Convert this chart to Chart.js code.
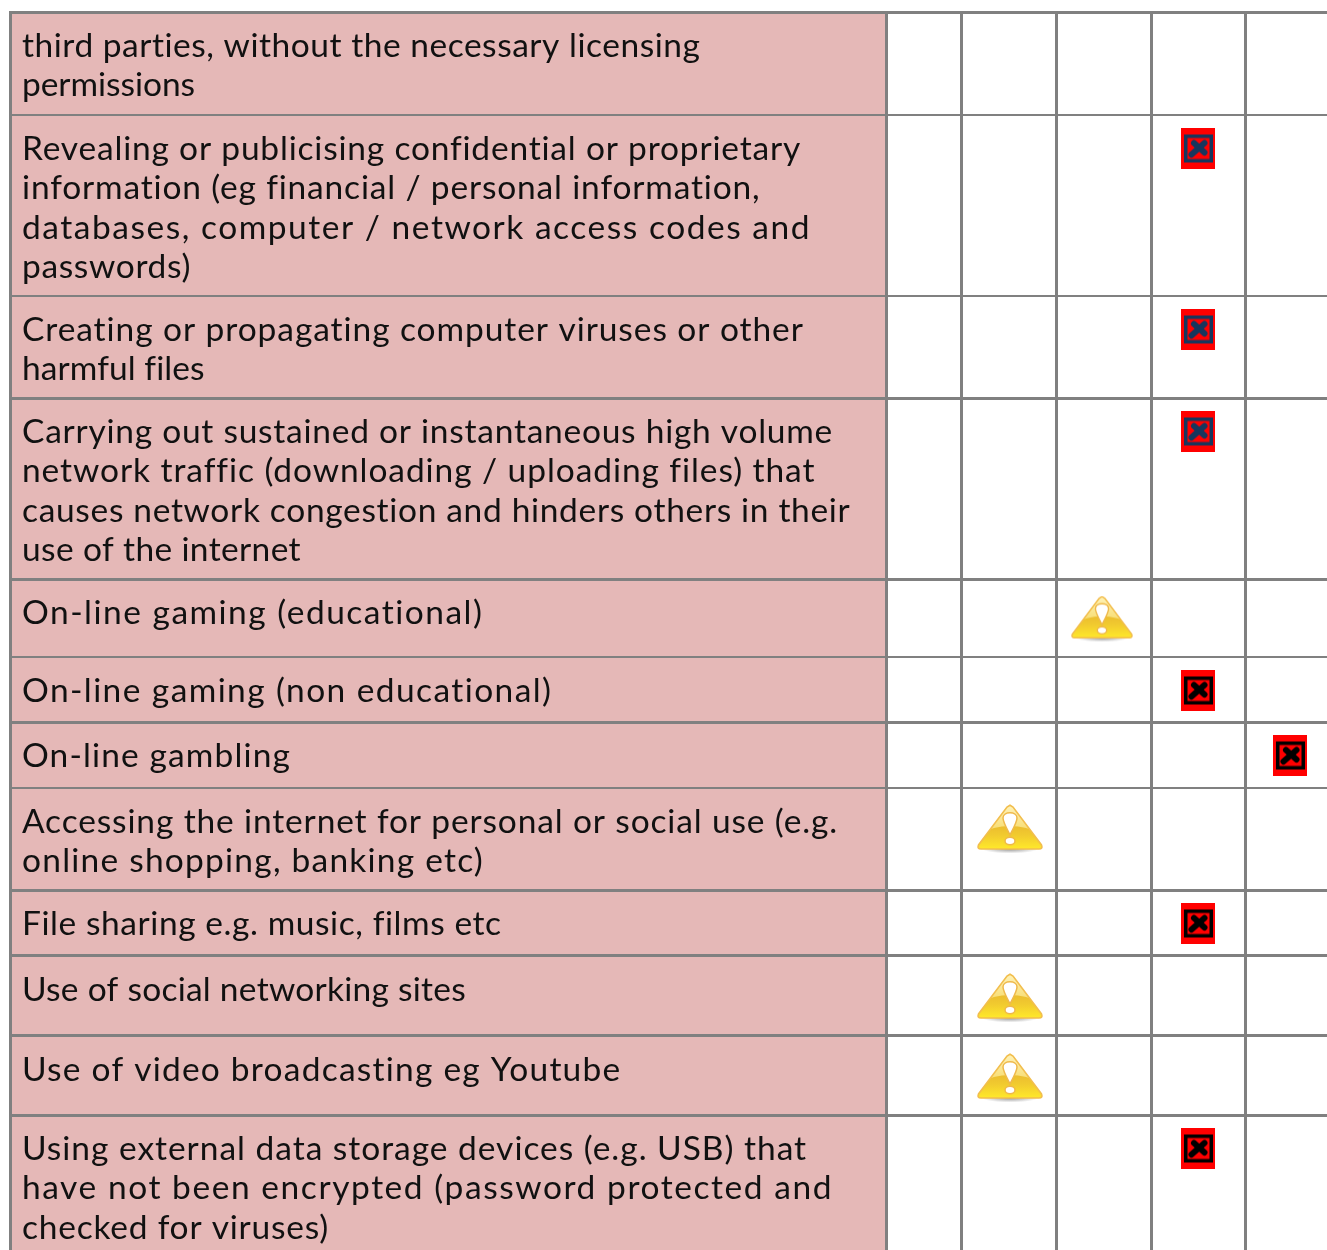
<!DOCTYPE html>
<html>
<head>
<meta charset="utf-8">
<style>
html, body { margin: 0; padding: 0; background: #fff; overflow: hidden; }
canvas { display: block; }
</style>
<script src="https://cdn.jsdelivr.net/npm/chart.js@4"></script>
</head>
<body>
<canvas id="tabela" width="1327" height="1250"></canvas>
<script>
// Linhas de texto de cada categoria
const categories = [
  ["third parties, without the necessary licensing", "permissions"],
  ["Revealing or publicising confidential or proprietary", "information (eg financial / personal information,", "databases, computer / network access codes and", "passwords)"],
  ["Creating or propagating computer viruses or other", "harmful files"],
  ["Carrying out sustained or instantaneous high volume", "network traffic (downloading / uploading files) that", "causes network congestion and hinders others in their", "use of the internet"],
  ["On-line gaming (educational)"],
  ["On-line gaming (non educational)"],
  ["On-line gambling"],
  ["Accessing the internet for personal or social use (e.g.", "online shopping, banking etc)"],
  ["File sharing e.g. music, films etc"],
  ["Use of social networking sites"],
  ["Use of video broadcasting eg Youtube"],
  ["Using external data storage devices (e.g. USB) that", "have not been encrypted (password protected and", "checked for viruses)"]
];
// Coluna marcada em cada linha (null = nenhuma)
const markColumn = [null, 3, 3, 3, 2, 3, 4, 1, 3, 1, 1, 3];
const markType = [null, "blue", "blue", "blue", "warn", "black", "black", "warn", "black", "warn", "warn", "black"];

// Geometria da tabela
const rowTops = [12.5, 115, 296, 398, 579, 657, 722, 788, 890, 955, 1035, 1115];
const thinRows = [115, 296, 657, 788];
const colLines = [10.5, 886.5, 961.5, 1056.5, 1151, 1245.5];
const colCentres = [924, 1010, 1102, 1198, 1290];
const textOffsets = [44.5, 45, 45, 45, 45, 45, 45, 45, 45, 46, 46, 45];
const markOffsets = [0, 33, 33, 33, 40, 33, 33, 41, 33, 43, 43, 33];
// Onde termina cada linha de texto, para acertar o espacamento
const lineEnds = [
  [701, 195], [801, 761, 811, 191], [805, 204], [833, 813, 851, 301],
  [484], [553], [291], [838, 484], [501], [466], [622], [807, 833, 329]
];

const TEXT_FONT = '33.5px Lato';
const GREY = '#808080';
const PINK = '#E5B8B7';

// Icone da cruz num quadrado vermelho
function blockIcon(color) {
  const c = document.createElement('canvas');
  c.width = 34; c.height = 41;
  const g = c.getContext('2d');
  g.fillStyle = '#FF0000';
  g.fillRect(0, 0, 34, 41);
  g.strokeStyle = color;
  g.lineWidth = 3.5;
  g.strokeRect(4.75, 8.75, 25.5, 24.5);
  g.lineWidth = 6;
  g.lineCap = 'round';
  g.beginPath();
  g.moveTo(10.5, 27); g.lineTo(23.5, 15.5);
  g.moveTo(13, 15.5); g.lineTo(23.5, 25);
  g.stroke();
  return c;
}

// Triangulo de aviso amarelo
function warnIcon(w, h) {
  const c = document.createElement('canvas');
  c.width = w; c.height = h;
  const g = c.getContext('2d');
  g.scale(w / 66, h / 50);
  const sh = g.createRadialGradient(33, 0, 1, 33, 0, 28);
  g.save();
  g.translate(0, 45);
  g.scale(1, 0.16);
  sh.addColorStop(0, 'rgba(120,120,120,0.75)');
  sh.addColorStop(1, 'rgba(120,120,120,0)');
  g.fillStyle = sh;
  g.fillRect(0, -28, 66, 56);
  g.restore();
  const tri = () => {
    g.beginPath();
    g.moveTo(33, 1.2);
    g.lineTo(36, 3);
    g.lineTo(64.5, 41);
    g.quadraticCurveTo(66, 45, 62, 45);
    g.lineTo(4, 45);
    g.quadraticCurveTo(0, 45, 1.5, 41);
    g.lineTo(30, 3);
    g.closePath();
  };
  const grad = g.createLinearGradient(0, 14, 0, 45);
  grad.addColorStop(0, '#E6B22E');
  grad.addColorStop(0.55, '#F1CA2F');
  grad.addColorStop(1, '#FFE92A');
  tri();
  g.fillStyle = grad;
  g.fill();
  // brilho claro da parte de cima
  g.save();
  tri();
  g.clip();
  const gloss = g.createLinearGradient(0, 0, 0, 30);
  gloss.addColorStop(0, '#FFF4BC');
  gloss.addColorStop(1, '#F6D968');
  g.fillStyle = gloss;
  g.beginPath();
  g.moveTo(0, 0); g.lineTo(66, 0); g.lineTo(66, 31);
  g.quadraticCurveTo(33, 13, 0, 31);
  g.closePath();
  g.fill();
  g.restore();
  tri();
  g.strokeStyle = '#F2BE4E';
  g.lineWidth = 1.6;
  g.stroke();
  // exclamacao
  g.fillStyle = '#FFFFFF';
  g.strokeStyle = '#EFB94A';
  g.lineWidth = 1.5;
  g.beginPath();
  g.moveTo(33, 31);
  g.bezierCurveTo(30, 25, 26, 18, 26, 14);
  g.bezierCurveTo(26, 7, 40, 7, 40, 14);
  g.bezierCurveTo(40, 18, 36, 25, 33, 31);
  g.closePath();
  g.fill(); g.stroke();
  g.beginPath();
  g.ellipse(33, 37, 5, 3.8, 0, 0, Math.PI * 2);
  g.fill(); g.stroke();
  return c;
}

const icons = {
  blue: blockIcon('#17365D'),
  black: blockIcon('#000000'),
  warn: warnIcon(66, 50),
  warnSmall: warnIcon(62, 47)
};

function marksFor(type) {
  const pts = [];
  markType.forEach((t, i) => {
    if (t === type) pts.push({ x: colCentres[markColumn[i]], y: rowTops[i] + markOffsets[i] });
  });
  return pts;
}

// Fundo rosa da primeira coluna e textos das linhas
const tabelaPlugin = {
  id: 'tabela',
  beforeDraw(chart) {
    const { ctx, scales: { x, y } } = chart;
    ctx.save();
    ctx.fillStyle = PINK;
    ctx.fillRect(x.getPixelForValue(colLines[0]), y.getPixelForValue(rowTops[0]),
      x.getPixelForValue(colLines[1]) - x.getPixelForValue(colLines[0]),
      y.getPixelForValue(1250) - y.getPixelForValue(rowTops[0]));
    ctx.restore();
  },
  afterDatasetsDraw(chart) {
    const { ctx, scales: { x, y } } = chart;
    ctx.save();
    ctx.font = TEXT_FONT;
    ctx.fillStyle = '#111111';
    ctx.textBaseline = 'alphabetic';
    categories.forEach((lines, r) => {
      lines.forEach((line, i) => {
        ctx.letterSpacing = '0px';
        const natural = ctx.measureText(line).width;
        ctx.letterSpacing = ((lineEnds[r][i] - 22 - natural) / line.length).toFixed(3) + 'px';
        ctx.fillText(line, x.getPixelForValue(22), y.getPixelForValue(rowTops[r] + textOffsets[r] + i * 39.3));
      });
    });
    ctx.restore();
  }
};

new Chart(document.getElementById('tabela'), {
  type: 'scatter',
  data: {
    datasets: [
      { label: 'Warning', data: marksFor('warn'), pointStyle: c => (c.raw && c.raw.x < 1060 ? icons.warn : icons.warnSmall) },
      { label: 'Blocked', data: marksFor('blue'), pointStyle: icons.blue },
      { label: 'Blocked', data: marksFor('black'), pointStyle: icons.black }
    ]
  },
  options: {
    responsive: false,
    animation: false,
    clip: false,
    layout: { autoPadding: false, padding: { left: 9, top: 12, right: 0, bottom: 0 } },
    plugins: { legend: { display: false }, tooltip: { enabled: false } },
    elements: { point: { radius: 10, hoverRadius: 10 } },
    scales: {
      x: {
        type: 'linear', min: 9, max: 1327,
        afterBuildTicks: a => { a.ticks = colLines.map(value => ({ value })); },
        ticks: { display: false },
        border: { display: false },
        grid: { color: GREY, lineWidth: 3, drawTicks: false }
      },
      y: {
        type: 'linear', reverse: true, min: 12, max: 1250,
        afterBuildTicks: a => { a.ticks = rowTops.map(value => ({ value })); },
        ticks: { display: false },
        border: { display: false },
        grid: { color: GREY, lineWidth: c => (thinRows.includes(c.tick.value) ? 2 : 3), drawTicks: false }
      }
    }
  },
  plugins: [tabelaPlugin]
});
</script>
</body>
</html>
